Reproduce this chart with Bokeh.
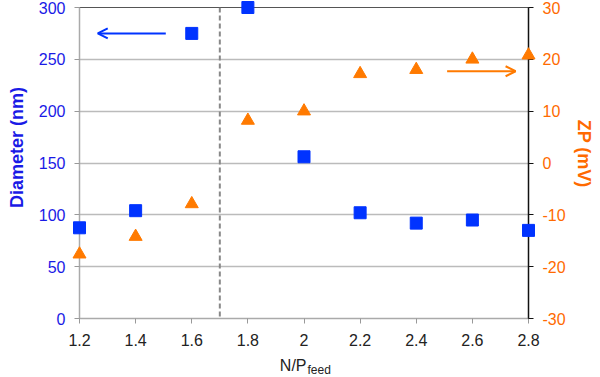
import math
from bokeh.plotting import figure
from bokeh.models import (Range1d, LinearAxis, FixedTicker, Span, Arrow, OpenHead)
from bokeh.core.properties import value
from bokeh.embed import file_html
from bokeh.resources import INLINE

np_feed = [1.2, 1.4, 1.6, 1.8, 2.0, 2.2, 2.4, 2.6, 2.8]
diameter = [87.5, 104, 275, 300, 156, 102, 92, 95, 85]
zp = [-17.6, -14.2, -7.9, 8.2, 10.0, 17.2, 18.0, 20.0, 20.8]

x_ticks = [1.2, 1.4, 1.6, 1.8, 2.0, 2.2, 2.4, 2.6, 2.8]
x_tick_labels = ["1.2", "1.4", "1.6", "1.8", "2", "2.2", "2.4", "2.6", "2.8"]
d_ticks = [0, 50, 100, 150, 200, 250, 300]
zp_ticks = [-30, -20, -10, 0, 10, 20, 30]
zp_tick_labels = ["-30", "-20", "-10", "0", "10", "20", "30"]
divider_x = 1.7

BLUE = "#0033FF"
BLUE_TXT = "#1A1AE6"
ORANGE = "#FF7A00"
ORANGE_TXT = "#FF6A00"
FONT = "Liberation Sans"

p = figure(frame_width=449, frame_height=311, min_border_left=79, min_border_right=70,
           min_border_top=7, min_border_bottom=58,
           x_range=Range1d(1.2, 2.8), y_range=Range1d(0, 300),
           output_backend="svg", toolbar_location=None)
p.extra_y_ranges = {"zp": Range1d(-30, 30)}

p.outline_line_color = "#555555"
p.xgrid.visible = False
p.ygrid.grid_line_color = "#BBBBBB"
p.ygrid.grid_line_width = 1.5
p.ygrid.ticker = FixedTicker(ticks=d_ticks)

# x axis
xa = p.xaxis[0]
xa.ticker = FixedTicker(ticks=x_ticks)
xa.major_label_overrides = dict(zip(x_ticks, x_tick_labels))
xa.axis_line_color = "#AAAAAA"
xa.axis_line_width = 1.5
xa.major_tick_line_color = "#999999"
xa.major_tick_in = 0
xa.major_tick_out = 5
xa.minor_tick_line_color = None
xa.major_label_text_font = FONT
xa.major_label_text_font_size = "16px"
xa.major_label_text_color = "#222222"
xa.major_label_standoff = 10

# left axis
ya = p.yaxis[0]
ya.ticker = FixedTicker(ticks=d_ticks)
ya.axis_line_color = "#AAAAAA"
ya.axis_line_width = 1.5
ya.major_tick_line_color = "#999999"
ya.major_tick_in = 0
ya.major_tick_out = 5
ya.minor_tick_line_color = None
ya.major_label_text_font = FONT
ya.major_label_text_font_size = "16px"
ya.major_label_text_color = BLUE_TXT
ya.major_label_standoff = 9

# right axis
ra = LinearAxis(y_range_name="zp", ticker=FixedTicker(ticks=zp_ticks))
ra.major_label_overrides = dict(zip(zp_ticks, zp_tick_labels))
ra.axis_line_color = "#111111"
ra.axis_line_width = 1.5
ra.major_tick_line_color = "#111111"
ra.major_tick_in = 0
ra.major_tick_out = 5
ra.minor_tick_line_color = None
ra.major_label_text_font = FONT
ra.major_label_text_font_size = "16px"
ra.major_label_text_color = ORANGE_TXT
ra.major_label_standoff = 9
p.add_layout(ra, "right")

# axis titles (drawn as unclipped overlay text glyphs)
p.text(x=[0.979], y=[165], text=["Diameter (nm)"], angle=math.pi / 2,
       text_font=value(FONT), text_font_style="bold", text_font_size="18px",
       text_color=BLUE_TXT, text_align="center", text_baseline="middle", level="overlay")
p.text(x=[2.998], y=[159], text=["ZP (mV)"], angle=-math.pi / 2,
       text_font=value(FONT), text_font_style="bold", text_font_size="18px",
       text_color=ORANGE_TXT, text_align="center", text_baseline="middle", level="overlay")
p.text(x=[2.009], y=[-45], text=["N/P"], text_font=value(FONT), text_font_size="16px",
       text_color="#222222", text_align="right", text_baseline="alphabetic", level="overlay")
p.text(x=[2.0125], y=[-50], text=["feed"], text_font=value(FONT), text_font_size="12px",
       text_color="#222222", text_align="left", text_baseline="alphabetic", level="overlay")

# divider
p.add_layout(Span(location=divider_x, dimension="height", line_color="#888888",
                  line_dash="5 3", line_width=2))

# data
p.scatter(np_feed, diameter, marker="square", size=12, fill_color=BLUE, line_color=BLUE, level="overlay")
p.scatter(np_feed, zp, marker="triangle", size=13, fill_color=ORANGE, line_color=ORANGE,
          y_range_name="zp", level="overlay")

# arrows
p.add_layout(Arrow(x_start=1.5075, y_start=275, x_end=1.265, y_end=275, line_color=BLUE, line_width=2,
                   end=OpenHead(size=10, line_color=BLUE, line_width=2)))
p.add_layout(Arrow(x_start=2.51, y_start=17.7, x_end=2.754, y_end=17.7, line_color=ORANGE, line_width=2,
                   y_range_name="zp",
                   end=OpenHead(size=10, line_color=ORANGE, line_width=2)))

open("out.html", "w").write(file_html(p, INLINE))
